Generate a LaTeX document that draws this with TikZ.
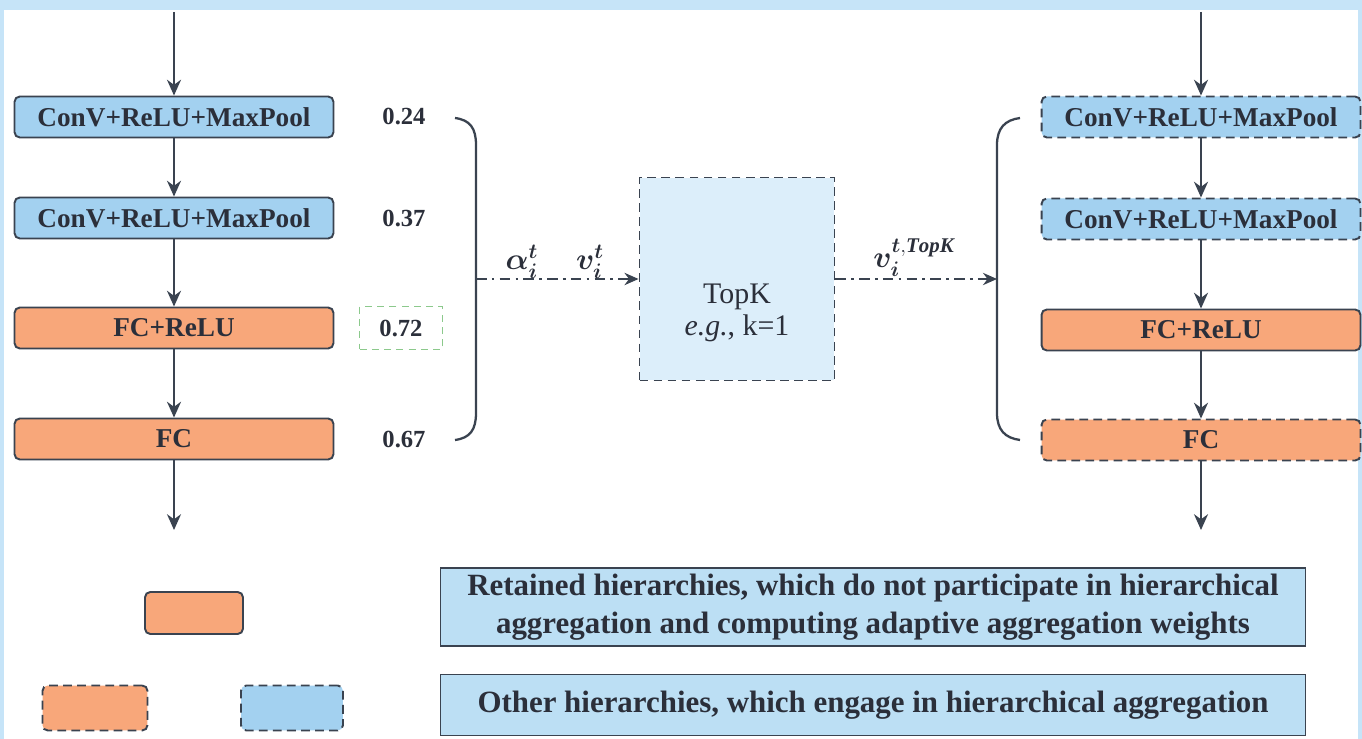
\documentclass[tikz,border=0pt]{standalone}
\usepackage{amsmath,bm}
\usepackage{fontspec}
\setmainfont{Liberation Serif}
\usetikzlibrary{arrows.meta}
\definecolor{bandblue}{HTML}{C6E4F8}
\definecolor{boxblue}{HTML}{A3D1F0}
\definecolor{boxorange}{HTML}{F8A77A}
\definecolor{topkblue}{HTML}{DCEEFA}
\definecolor{legblue}{HTML}{BCDFF4}
\definecolor{edge}{HTML}{3A4350}
\definecolor{txt}{HTML}{2B2F3A}
\definecolor{lgreen}{HTML}{8CC98C}
\tikzset{
  layer/.style={draw=edge, line width=1.1pt, rounded corners=3pt, minimum width=6.38cm, minimum height=0.82cm, inner sep=0pt, font=\fontsize{15.5}{17}\selectfont\bfseries, text=txt},
  blayer/.style={layer, fill=boxblue},
  olayer/.style={layer, fill=boxorange},
  dlayer/.style={dash pattern=on 5pt off 3pt},
  flow/.style={draw=edge, line width=1.1pt, -{Stealth[length=9pt,width=8pt]}},
  dd/.style={draw=edge, line width=1.1pt, dash pattern=on 6pt off 3pt on 1.5pt off 3pt, -{Stealth[length=8pt,width=7pt]}},
  num/.style={font=\fontsize{14}{16}\selectfont\bfseries, text=txt},
  legtext/.style={draw=edge, line width=1pt, fill=legblue, minimum width=17.3cm, inner sep=0pt, align=center, font=\fontsize{17.6}{21.5}\selectfont\bfseries, text=txt},
  mlabel/.style={font=\fontsize{17}{19}\selectfont, text=txt},
  brace/.style={draw=edge, line width=1.3pt}
}
\begin{document}
\begin{tikzpicture}[x=0.02cm,y=-0.02cm]
\useasboundingbox (0,0) rectangle (1362,739);
\fill[white] (0,0) rectangle (1362,739);
\fill[bandblue] (0,0) rectangle (1362,10);
\fill[bandblue] (0,0) rectangle (4,739);
\fill[bandblue] (1358,0) rectangle (1362,739);

% left column
\node[blayer] (l1) at (174,117) {ConV+ReLU+MaxPool};
\node[blayer] (l2) at (174,218) {ConV+ReLU+MaxPool};
\node[olayer] (l3) at (174,328) {FC+ReLU};
\node[olayer] (l4) at (174,439) {FC};
\coordinate (lin) at (174,12);
\coordinate (lout) at (174,530);
\draw[flow] (lin) -- (l1);
\draw[flow] (l1) -- (l2);
\draw[flow] (l2) -- (l3);
\draw[flow] (l3) -- (l4);
\draw[flow] (l4) -- (lout);

% weights
\node[num] (w1) at (404,117) {0.24};
\node[num] (w2) at (404,218) {0.37};
\node[num, draw=lgreen, line width=0.8pt, dash pattern=on 4pt off 3pt, minimum width=1.66cm, minimum height=0.86cm, inner sep=0pt] (w3) at (401,328) {0.72};
\node[num] (w4) at (404,439) {0.67};

% left brace
\coordinate (lbt) at (455,118);
\coordinate (lbb) at (455,440);
\coordinate (lb) at (476,279);
\draw[brace] (lbt) .. controls (470,120) and (476,128) .. (476,145) -- (476,413) .. controls (476,430) and (470,438) .. (lbb);

% TopK
\node[draw=edge, line width=1.1pt, dash pattern=on 5pt off 3pt, fill=topkblue, minimum width=3.9cm, minimum height=4.06cm] (topk) at (737,279) {};
\node[align=center, font=\fontsize{17}{18.5}\selectfont, text=txt] (topkt) at (737,313) {TopK\\\textit{e.g.}, k=1};
\draw[dd] (lb) -- (topk.west);
\node[mlabel] (alpha) at (522,262) {$\bm{\alpha}_{\bm{i}}^{\bm{t}}$};
\node[mlabel] (vin) at (590,262) {$\bm{v}_{\bm{i}}^{\bm{t}}$};

% right brace
\coordinate (rbt) at (1020,118);
\coordinate (rbb) at (1020,440);
\coordinate (rb) at (997,279);
\draw[brace] (rbt) .. controls (1005,120) and (997,128) .. (997,145) -- (997,413) .. controls (997,430) and (1005,438) .. (rbb);
\draw[dd] (topk.east) -- (rb);
\node[mlabel] (vout) at (914,258) {$\bm{v}_{\bm{i}}^{\bm{t},\bm{\mathit{TopK}}}$};

% right column
\node[blayer, dlayer] (r1) at (1201,117) {ConV+ReLU+MaxPool};
\node[blayer, dlayer] (r2) at (1201,219) {ConV+ReLU+MaxPool};
\node[olayer] (r3) at (1201,330) {FC+ReLU};
\node[olayer, dlayer] (r4) at (1201,440) {FC};
\coordinate (rin) at (1201,12);
\coordinate (rout) at (1201,530);
\draw[flow] (rin) -- (r1);
\draw[flow] (r1) -- (r2);
\draw[flow] (r2) -- (r3);
\draw[flow] (r3) -- (r4);
\draw[flow] (r4) -- (rout);

% legend
\node[draw=edge, line width=1.1pt, rounded corners=3pt, fill=boxorange, minimum width=1.96cm, minimum height=0.84cm] (kso) at (194,613) {};
\node[draw=edge, line width=1.1pt, rounded corners=3pt, fill=boxorange, dlayer, minimum width=2.1cm, minimum height=0.9cm] (kdo) at (95,708) {};
\node[draw=edge, line width=1.1pt, rounded corners=3pt, fill=boxblue, dlayer, minimum width=2.04cm, minimum height=0.9cm] (kdb) at (292,708) {};
\node[legtext, minimum height=1.56cm] (t1) at (873,607) {Retained hierarchies, which do not participate in hierarchical\\aggregation and computing adaptive aggregation weights};
\node[legtext, minimum height=1.22cm] (t2) at (873,705) {Other hierarchies, which engage in hierarchical aggregation};
\end{tikzpicture}
\end{document}
